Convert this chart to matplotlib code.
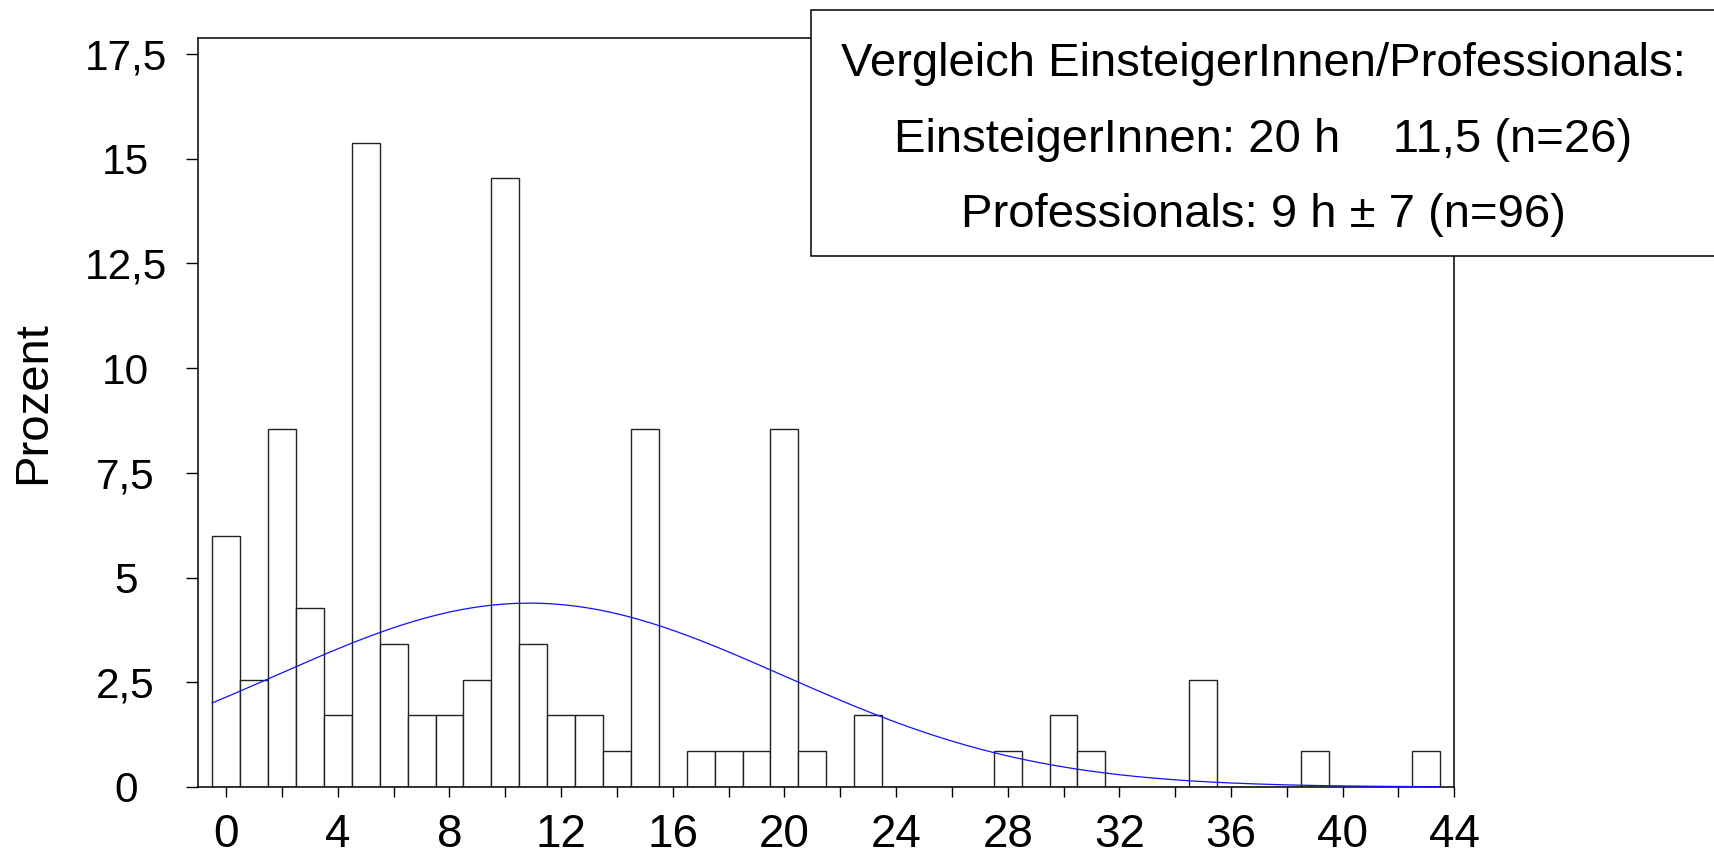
import numpy as np
import matplotlib
matplotlib.use("Agg")
import matplotlib.pyplot as plt
from matplotlib.patches import Rectangle

plt.rcParams['font.family'] = ['Liberation Sans', 'DejaVu Sans']

# ---- data ----
hours = list(range(0, 44))
percent = [5.98, 2.56, 8.55, 4.27, 1.71, 15.38, 3.42, 1.71, 1.71, 2.56,
           14.53, 3.42, 1.71, 1.71, 0.85, 8.55, 0.00, 0.85, 0.85, 0.85,
           8.55, 0.85, 0.00, 1.71, 0.00, 0.00, 0.00, 0.00, 0.85, 0.00,
           1.71, 0.85, 0.00, 0.00, 0.00, 2.56, 0.00, 0.00, 0.00, 0.85,
           0.00, 0.00, 0.00, 0.85]
y_ticks = [0, 2.5, 5, 7.5, 10, 12.5, 15, 17.5]
y_ticklabels = ["0", "2,5", "5", "7,5", "10", "12,5", "15", "17,5"]
x_ticks = list(range(0, 45, 4))
x_minor = list(range(2, 44, 4))
y_label = "Prozent"
box_lines = ["Vergleich EinsteigerInnen/Professionals:",
             "EinsteigerInnen: 20 h    11,5 (n=26)",
             "Professionals: 9 h \u00b1 7 (n=96)"]

# ---- figure ----
W, H = 1715, 858
fig = plt.figure(figsize=(W / 100, H / 100), dpi=100)
ax = fig.add_axes([198.3 / W, 1 - 787 / H, (1454.3 - 198.3) / W, (787 - 38.3) / H])

ax.bar(hours, percent, width=1.0, color='white', edgecolor='#222222',
       linewidth=1.0, zorder=2)

# fitted normal curve from the histogram itself
xs = np.array(hours, dtype=float)
w = np.array(percent)
mu = np.average(xs, weights=w)
sd = np.sqrt(np.average((xs - mu) ** 2, weights=w))
xf = np.linspace(-0.5, 43.5, 300)
yf = w.sum() / (sd * np.sqrt(2 * np.pi)) * np.exp(-0.5 * ((xf - mu) / sd) ** 2)
ax.plot(xf, yf, color='#1010ff', linewidth=0.9, zorder=3)

ax.set_xlim(-1, 44)
ax.set_ylim(0, 17.87)

ax.set_yticks(y_ticks)
ax.set_yticklabels(y_ticklabels)
ax.set_xticks(x_ticks)
ax.set_xticks(x_minor, minor=True)
ax.tick_params(axis='y', length=8.9, width=1.0, pad=43.4, labelsize=30.5)
ax.tick_params(axis='x', which='both', length=7.2, width=1.0, pad=11.5, labelsize=33)
for lab in ax.get_yticklabels():
    lab.set_horizontalalignment('center')

for s in ax.spines.values():
    s.set_linewidth(1.1)
    s.set_color('black')

ax.set_ylabel(y_label, fontsize=34, va='center')
ax.yaxis.set_label_coords((33.4 - 198.3) / (1454.3 - 198.3), (787 - 402.5) / (787 - 38.3))

# annotation box (extends past the right edge)
box = Rectangle((811 / W, 1 - 256 / H), 1.0, (256 - 10) / H, transform=fig.transFigure,
                facecolor='white', edgecolor='black', linewidth=1.1, zorder=10)
fig.add_artist(box)
for txt, base in zip(box_lines, [76, 151.7, 226.7]):
    fig.text(1263 / W, 1 - base / H, txt, ha='center', va='baseline', fontsize=34, zorder=11)

fig.savefig("out.png", dpi=100)
